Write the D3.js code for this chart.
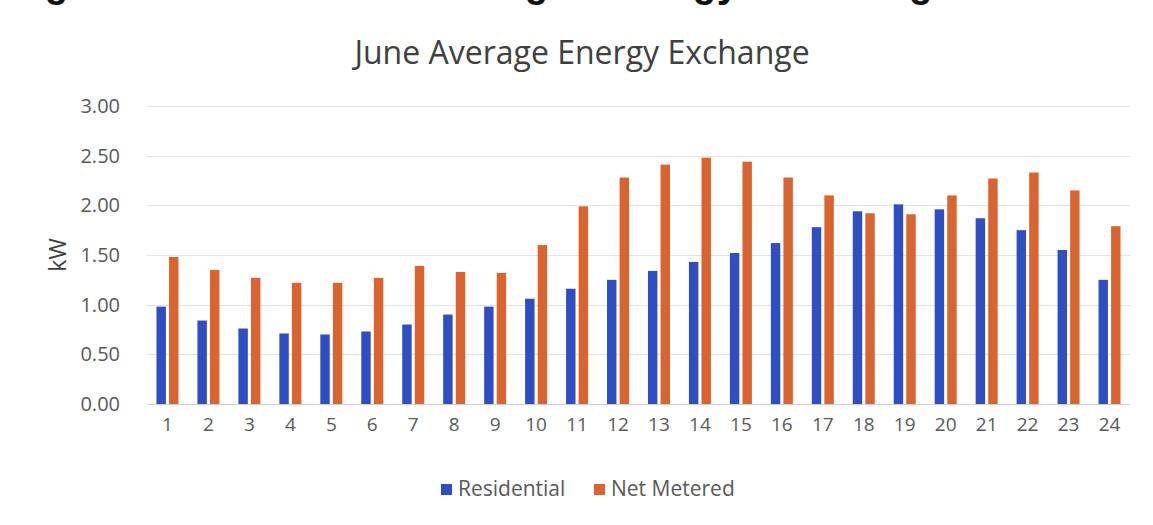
<!DOCTYPE html>
<html>
<head>
<meta charset="utf-8">
<script src="https://cdn.jsdelivr.net/npm/d3@7"></script>
<style>
  body { margin: 0; background: #fff; }
  svg { display: block; }
</style>
</head>
<body>
<div id="chart"></div>
<script>
// hours of the day
const hours = d3.range(1, 25).map(String);
// average kW per hour
const residential = [0.98, 0.84, 0.76, 0.71, 0.70, 0.73, 0.80, 0.90, 0.98, 1.06, 1.16, 1.25,
                     1.34, 1.43, 1.52, 1.62, 1.78, 1.94, 2.01, 1.96, 1.87, 1.75, 1.55, 1.25];
const netMetered = [1.48, 1.35, 1.27, 1.22, 1.22, 1.27, 1.39, 1.33, 1.32, 1.60, 1.99, 2.28,
                    2.41, 2.48, 2.44, 2.28, 2.10, 1.92, 1.91, 2.10, 2.27, 2.33, 2.15, 1.79];
const seriesNames = ["Residential", "Net Metered"];
const yTicks = [0, 0.5, 1, 1.5, 2, 2.5, 3];

let width = 1153
let height = 525
let margin = {top: 106, right: 23, bottom: 121, left: 147};

let colors = d3.scaleOrdinal()
    .domain(seriesNames)
    .range(["#2f4ec2", "#da6430"]);

let svg = d3.select("#chart").append("svg")
    .attr("width", width)
    .attr("height", height)
    .style("font-family", "'Open Sans', sans-serif");

// caption of the page above, cut off by the scan (only the feet of the letters show)
svg.append("text")
    .attr("x", -4)
    .attr("y", -3)
    .style("font-family", "'Liberation Mono', 'DejaVu Sans Mono', monospace")
    .attr("font-weight", "bold")
    .attr("font-size", 40)
    .attr("fill", "#111")
    .text("Figure 4.5: June Average Energy Exchange");

let x = d3.scaleBand()
    .domain(hours)
    .range([margin.left, width - margin.right]);

let x1 = d3.scaleBand()
    .domain(seriesNames)
    .range([x.bandwidth() / 2 - 11, x.bandwidth() / 2 + 11])
    .paddingInner(0.25);

let y = d3.scaleLinear()
    .domain([0, 3])
    .range([height - margin.bottom, margin.top]);

// gridlines
svg.append("g")
    .selectAll("line")
    .data(yTicks)
    .enter().append("line")
    .attr("x1", margin.left)
    .attr("x2", width - margin.right)
    .attr("y1", d => Math.round(y(d)) + 0.5)
    .attr("y2", d => Math.round(y(d)) + 0.5)
    .attr("stroke", d => d === 0 ? "#d0d0d0" : "#e4e4e4")
    .attr("stroke-width", 1);

// y axis labels
let yAxis = svg.append("g")
    .attr("transform", "translate(" + (margin.left - 24) + ",0)")
    .call(d3.axisLeft(y).tickValues(yTicks).tickFormat(d3.format(".2f")).tickSize(0));
yAxis.select(".domain").remove();
yAxis.selectAll("text")
    .attr("font-size", 20)
    .attr("font-family", "'Open Sans', sans-serif")
    .attr("fill", "#595959");

// x axis labels
let xAxis = svg.append("g")
    .attr("transform", "translate(0," + (height - margin.bottom) + ")")
    .call(d3.axisBottom(x).tickSize(0).tickPadding(14));
xAxis.select(".domain").remove();
xAxis.selectAll("text")
    .attr("font-size", 19)
    .attr("font-family", "'Open Sans', sans-serif")
    .attr("fill", "#595959");

// bars
let table = hours.map((h, i) => ({hour: h, values: [
    {name: seriesNames[0], value: residential[i]},
    {name: seriesNames[1], value: netMetered[i]}
]}));

svg.append("g")
    .selectAll("g")
    .data(table)
    .enter().append("g")
    .attr("transform", d => "translate(" + x(d.hour) + ",0)")
    .selectAll("rect")
    .data(d => d.values)
    .enter().append("rect")
    .attr("x", d => x1(d.name))
    .attr("width", x1.bandwidth())
    .attr("y", d => y(d.value))
    .attr("height", d => y(0) - y(d.value))
    .attr("fill", d => colors(d.name));

// title
svg.append("text")
    .attr("x", 582)
    .attr("y", 64)
    .attr("text-anchor", "middle")
    .attr("font-size", 32)
    .attr("fill", "#404040")
    .text("June Average Energy Exchange");

// axis title
svg.append("text")
    .attr("transform", "translate(66," + y(1.5) + ") rotate(-90)")
    .attr("text-anchor", "middle")
    .attr("font-size", 23)
    .attr("fill", "#404040")
    .text("kW");

// legend
let legend = svg.append("g")
    .attr("transform", "translate(441,489)");
let items = legend.selectAll("g")
    .data(seriesNames)
    .enter().append("g")
    .attr("transform", (d, i) => "translate(" + (i * 153) + ",0)");
items.append("rect")
    .attr("x", 0)
    .attr("y", -5)
    .attr("width", 11)
    .attr("height", 11)
    .attr("fill", d => colors(d));
items.append("text")
    .attr("x", 17)
    .attr("y", 7)
    .attr("font-size", 21)
    .attr("fill", "#595959")
    .text(d => d);
</script>
</body>
</html>
